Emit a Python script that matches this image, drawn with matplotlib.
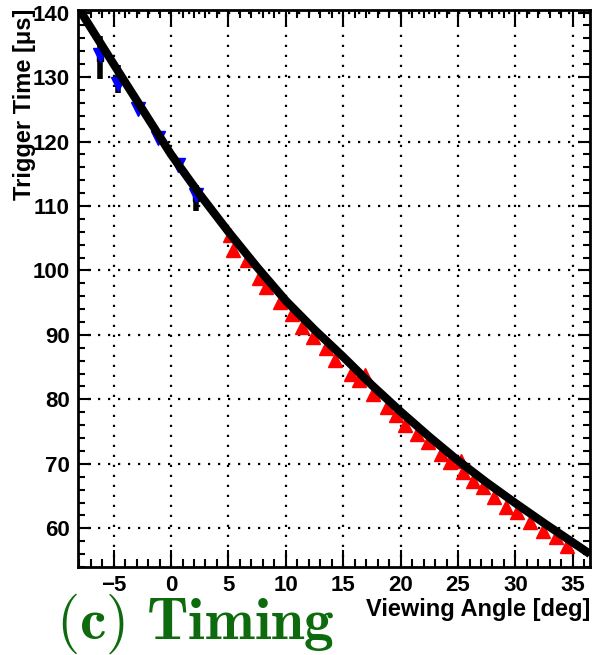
import numpy as np
import matplotlib.pyplot as plt
from matplotlib.ticker import MultipleLocator

# fitted timing curve
curve_x = [-8, -5, -2.5, 0, 2.5, 5, 7.5, 10, 12.5, 15, 17.5, 20, 22.5, 25, 27.5, 30, 32.5, 35, 36.5]
curve_y = [140.5, 132.0, 125.0, 118.0, 111.8, 106.0, 100.5, 95.3, 90.8, 86.6, 82.2, 78.1,
           74.2, 70.5, 67.1, 63.9, 60.8, 57.8, 56.0]

# blue points (downward triangles)
blue_x = [-6.2, -4.6, -2.9, -1.1, 0.6, 2.2]
blue_y = [133.4, 129.0, 125.0, 120.6, 116.4, 111.7]

# black points with error bars
blk_x = [-6.2, -4.6, 2.2]
blk_y = [133.0, 129.7, 111.2]
blk_err = [3.3, 2.1, 2.0]

# red points (upward triangles)
red_x = [5.1, 5.4, 6.6, 7.7, 8.3, 9.5, 10.5, 11.4, 12.4, 13.5, 14.3, 15.7, 16.4, 16.9,
         17.6, 18.8, 19.6, 20.4, 21.4, 22.4, 23.5, 24.3, 25.3, 25.4, 26.3, 27.2, 28.1,
         29.2, 30.1, 31.3, 32.4, 33.5, 34.5]
red_y = [105.5, 103.2, 101.6, 98.8, 97.5, 95.1, 93.3, 91.3, 89.7, 87.9, 86.1, 84.0, 83.0,
         83.8, 80.9, 78.8, 77.5, 76.0, 74.7, 73.4, 71.6, 70.3, 70.5, 68.7, 67.4, 66.4, 64.8,
         63.3, 62.5, 60.9, 59.6, 58.6, 57.3]

plt.rcParams['font.family'] = ['Liberation Sans', 'DejaVu Sans']
plt.rcParams['mathtext.fontset'] = 'cm'

fig = plt.figure(figsize=(5.96, 6.55), dpi=100)
ax = fig.add_axes([0.131, 0.1344, 0.859, 0.8503])

ax.errorbar(blk_x, blk_y, yerr=blk_err, fmt='s', color='black', ms=4,
            elinewidth=4, capsize=0, zorder=2)
ax.plot(red_x, red_y, '^', color='#ff0000', ms=10, mec='#ff0000', zorder=3)
ax.plot(blue_x, blue_y, 'v', color='#0000ff', ms=10, mec='#0000ff', zorder=3)
ax.plot(curve_x, curve_y, '-', color='black', lw=6, zorder=4, solid_capstyle='butt')

ax.set_xlim(-8.1, 36.5)
ax.set_ylim(54, 140.4)

ax.xaxis.set_major_locator(MultipleLocator(5))
ax.xaxis.set_minor_locator(MultipleLocator(1))
ax.yaxis.set_major_locator(MultipleLocator(10))
ax.yaxis.set_minor_locator(MultipleLocator(2))

ax.grid(True, which='major', color='black', linestyle=(0, (1, 3.5)), lw=1.6)
ax.tick_params(which='both', direction='in', top=True, right=True, width=1.5,
               labelsize=16, pad=6)
ax.tick_params(axis='x', which='major', length=12)
ax.tick_params(axis='x', which='minor', length=6)
ax.tick_params(axis='y', which='major', length=9)
ax.tick_params(axis='y', which='minor', length=5)
for lab in ax.get_xticklabels() + ax.get_yticklabels():
    lab.set_fontweight('bold')
for sp in ax.spines.values():
    sp.set_linewidth(2)

ax.set_xlabel('Viewing Angle [deg]', fontsize=17, fontweight='bold')
ax.xaxis.set_label_coords(1.0, -0.055)
ax.xaxis.label.set_horizontalalignment('right')
# ylabel uses anchor rotation: ha is along the text, va across it
ax.set_ylabel('Trigger Time [\u03bcs]', fontsize=17, fontweight='bold')
ax.yaxis.set_label_coords(-0.104, 1.002)
ax.yaxis.label.set_horizontalalignment('right')
ax.yaxis.label.set_verticalalignment('center')

fig.text(0.094, 0.025, r'$\mathbf{(c)\ Timing}$', fontsize=43, color='#0d6b0d')

fig.savefig('out.png', dpi=100)
